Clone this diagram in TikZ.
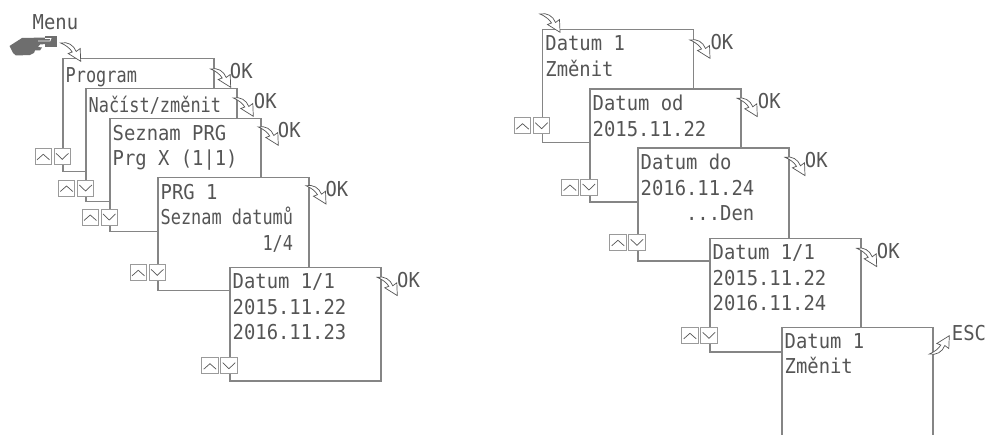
\documentclass[tikz,border=0pt]{standalone}
\usepackage{fontspec}
\newfontfamily\lcdfont[FakeStretch=0.92]{DejaVu Sans Mono}
\newfontfamily\lcdtight[FakeStretch=0.825]{DejaVu Sans Mono}
\definecolor{lcdgray}{HTML}{555555}
\definecolor{framegray}{HTML}{858585}
\definecolor{keygray}{HTML}{9A9A9A}
\definecolor{handgray}{HTML}{6E6E6E}
\tikzset{
  screenbox/.style={draw=framegray,line width=1.5pt,fill=white,anchor=north west,minimum width=151pt,minimum height=113pt,inner sep=0pt},
  screentext/.style={anchor=north west,inner sep=0pt,align=left,text=lcdgray,font=\lcdfont\fontsize{20.5}{25.5}\selectfont,execute at begin node={\strut},xshift=3.5pt,yshift=-6.7pt},
  keylabel/.style={anchor=base west,inner sep=0pt,text=lcdgray,font=\lcdfont\fontsize{20.5}{25.5}\selectfont},
  keycap/.style={draw=keygray,line width=0.9pt,fill=white},
  keymark/.style={draw=lcdgray,line width=0.7pt},
  turnline/.style={draw=lcdgray,line width=0.7pt,fill=white,line join=miter},
  turnarrow/.pic={
    \path[turnline] (0,0) .. controls (7,-1.5) and (13,2) .. (15.5,8.5) -- (19.5,5.5) -- (20,18.3) -- (7.5,10.5) -- (11.5,9) .. controls (9.5,5.5) and (5,2) .. (0,0) -- cycle;
  },
  keypair/.pic={
    \path[keycap] (0,0) rectangle (16.5,16);
    \draw[keymark] (2,11.5) -- (8.25,6) -- (14.5,11.5);
    \path[keycap] (19,0) rectangle (35.5,16);
    \draw[keymark] (21,5) -- (27.25,11) -- (33.5,5);
  }
}
\begin{document}
\begin{tikzpicture}[x=1pt,y=-1pt]
\clip (0,0) rectangle (987,435);
\fill[white] (0,0) rectangle (987,435);
% Drawing left stack of screens
\node[screenbox] (program) at (62,58) {};
\node[screentext] (programtext) at (program.north west) {\lcdtight\fontsize{20.5}{25.5}\selectfont Program};
\node[screenbox] (nacist) at (85,88) {};
\node[screentext] (nacisttext) at (nacist.north west) {\lcdtight\fontsize{20.5}{25.5}\selectfont Načíst/změnit};
\node[screenbox] (seznam) at (109,118) {};
\node[screentext] (seznamtext) at (seznam.north west) {Seznam PRG\\Prg X (1|1)};
\node[screenbox] (prgone) at (157,177) {};
\node[screentext] (prgonetext) at (prgone.north west) {PRG 1\\\lcdtight\fontsize{20.5}{25.5}\selectfont Seznam datumů\\\lcdtight\fontsize{20.5}{25.5}\selectfont\hphantom{xxxxxxxxxx}1/4};
\node[screenbox] (datuma) at (229,267) {};
\node[screentext] (datumatext) at (datuma.north west) {Datum 1/1\\2015.11.22\\2016.11.23};
% Drawing right stack of screens
\node[screenbox] (zmenit) at (541.7,29) {};
\node[screentext] (zmenittext) at (zmenit.north west) {Datum 1\\Změnit};
\node[screenbox] (datumod) at (589,88.5) {};
\node[screentext] (datumodtext) at (datumod.north west) {Datum od\\2015.11.22};
\node[screenbox] (datumdo) at (637,147.5) {};
\node[screentext] (datumdotext) at (datumdo.north west) {Datum do\\2016.11.24\\\hphantom{xxxx}...Den};
\node[screenbox] (datumb) at (709,238) {};
\node[screentext] (datumbtext) at (datumb.north west) {Datum 1/1\\2015.11.22\\2016.11.24};
\node[screenbox] (zmenitend) at (781,326.5) {};
\node[screentext] (zmenitendtext) at (zmenitend.north west) {Datum 1\\Změnit};
% Done with screens; drawing key pairs
\pic at (35,148.3) {keypair};
\pic at (58.3,180) {keypair};
\pic at (82,209) {keypair};
\pic at (130,264.3) {keypair};
\pic at (201.7,357.7) {keypair};
\pic at (514.3,117.7) {keypair};
\pic at (561.7,179) {keypair};
\pic at (609.7,234.3) {keypair};
\pic at (681.7,327.3) {keypair};
% Drawing hand on the menu key
\fill[handgray] (45,36) rectangle (57,47);
\fill[handgray] (9.5,46) -- (22,38) -- (46,37.5) -- (50,41) -- (46,44) -- (40,44.5) -- (38,47) -- (42,47.5) -- (40,50.5) -- (35,50.5) -- (34,53) -- (30,55) -- (16,55.5) -- (13,53) -- cycle;
\draw[white,line width=0.7pt] (38,41) -- (50,41) -- (51,38.5) -- (45,38.5);
\node[keylabel] (menulabel) at (32.5,30) {Menu};
% Drawing turn arrows
\pic at (60.7,43) {turnarrow};
\pic at (210.7,69) {turnarrow};
\pic at (233.3,98) {turnarrow};
\pic at (258.3,127) {turnarrow};
\pic at (306,185.7) {turnarrow};
\pic at (377.3,277.3) {turnarrow};
\pic at (540,14) {turnarrow};
\pic at (690,40) {turnarrow};
\pic at (737.3,98.3) {turnarrow};
\pic at (785,157.3) {turnarrow};
\pic at (856.7,248.3) {turnarrow};
\pic[yscale=-1] at (929.3,354) {turnarrow};
% Done with arrows; drawing key labels
\node[keylabel] (okprogram) at (229.7,78.5) {OK};
\node[keylabel] (oknacist) at (253.7,108.2) {OK};
\node[keylabel] (okseznam) at (277.7,137.5) {OK};
\node[keylabel] (okprgone) at (325.4,196.5) {OK};
\node[keylabel] (okdatuma) at (397,287.2) {OK};
\node[keylabel] (okzmenit) at (710.4,49.8) {OK};
\node[keylabel] (okdatumod) at (757.7,108.2) {OK};
\node[keylabel] (okdatumdo) at (804.7,167.2) {OK};
\node[keylabel] (okdatumb) at (876.7,258.8) {OK};
\node[keylabel] (escend) at (951.7,340) {ESC};
\end{tikzpicture}
\end{document}
